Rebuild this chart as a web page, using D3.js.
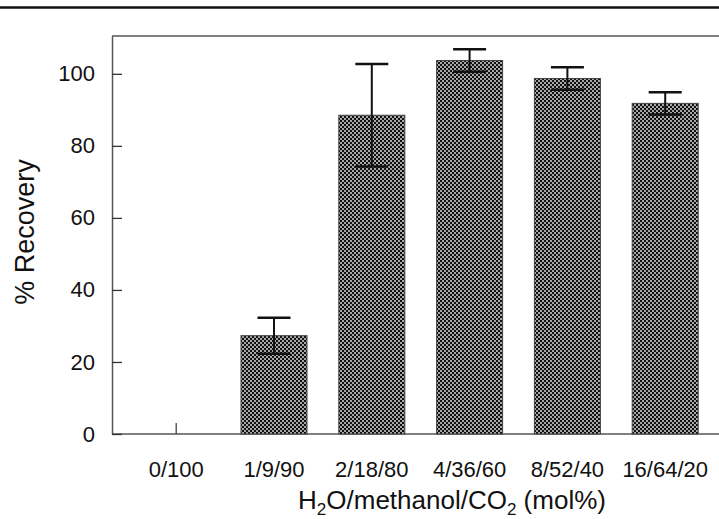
<!DOCTYPE html>
<html>
<head>
<meta charset="utf-8">
<script src="https://cdnjs.cloudflare.com/ajax/libs/d3/7.8.5/d3.min.js"></script>
<style>
	body { margin: 0; background: #fff; }
	#chart text { font-family: "Liberation Sans", Arial, sans-serif; fill: #111; }
</style>
</head>
<body>
<div id="chart"></div>
<script>
const categories = ["0/100", "1/9/90", "2/18/80", "4/36/60", "8/52/40", "16/64/20"];
const recovery = [0, 27.3, 88.5, 103.7, 98.7, 91.8];
const errors = [null, 5.0, 14.2, 3.1, 3.1, 3.1];
const yTicks = [0, 20, 40, 60, 80, 100];

const w = 719;
const h = 519;
const left = 112;
const bottom = 434;

const data = categories.map((c, i) => ({ cat: c, val: recovery[i], err: errors[i] }));

// Scales
const xScale = d3.scaleBand()
	.domain(categories)
	.range([127.3, 714.1])
	.paddingInner(0.325)
	.paddingOuter(0.1625);

const yScale = d3.scaleLinear()
	.domain([0, 110.5])
	.range([bottom, 36]);

const svg = d3.select("#chart")
	.append("svg")
	.attr("width", w)
	.attr("height", h);

// halftone fill like the scanned bars
const pat = svg.append("defs").append("pattern")
	.attr("id", "dots")
	.attr("patternUnits", "userSpaceOnUse")
	.attr("width", 4)
	.attr("height", 4);
pat.append("rect").attr("width", 4).attr("height", 4).attr("fill", "#a8a8a8");
pat.append("rect").attr("width", 2).attr("height", 2).attr("fill", "#111");
pat.append("rect").attr("x", 2).attr("y", 2).attr("width", 2).attr("height", 2).attr("fill", "#111");

// rule at the top of the page
svg.append("line")
	.attr("x1", 0).attr("x2", w)
	.attr("y1", 7.5).attr("y2", 7.5)
	.attr("stroke", "#111")
	.attr("stroke-width", 2.5);

// frame
svg.append("line")
	.attr("x1", left).attr("x2", w)
	.attr("y1", yScale(110.5)).attr("y2", yScale(110.5))
	.attr("stroke", "#555")
	.attr("stroke-width", 1.5);

svg.append("line")
	.attr("x1", left).attr("x2", w)
	.attr("y1", yScale(0)).attr("y2", yScale(0))
	.attr("stroke", "#555")
	.attr("stroke-width", 1.5);

// Axes
const yAxis = d3.axisLeft(yScale)
	.tickValues(yTicks)
	.tickSize(-10)
	.tickSizeOuter(0)
	.tickPadding(17);

const gy = svg.append("g")
	.attr("transform", `translate(${left}, 0)`)
	.call(yAxis);
gy.select(".domain").attr("stroke", "#555").attr("stroke-width", 1.5);
gy.selectAll(".tick line").attr("stroke", "#333").attr("stroke-width", 1.3);
gy.selectAll(".tick text").style("font-size", "22px");

const xAxis = d3.axisBottom(xScale)
	.tickSize(-11)
	.tickSizeOuter(0)
	.tickPadding(27);

const gx = svg.append("g")
	.attr("transform", `translate(0, ${bottom})`)
	.call(xAxis);
gx.select(".domain").remove();
gx.selectAll(".tick line").attr("stroke", "#444").attr("stroke-width", 1.3);
gx.selectAll(".tick text").style("font-size", "22px");

// Bars
svg.selectAll(".bar")
	.data(data.filter(d => d.val > 0))
	.enter()
	.append("rect")
	.attr("class", "bar")
	.attr("x", d => xScale(d.cat))
	.attr("y", d => yScale(d.val))
	.attr("width", xScale.bandwidth())
	.attr("height", d => yScale(0) - yScale(d.val))
	.attr("fill", "url(#dots)")
	.attr("stroke", "#444")
	.attr("stroke-width", 1);

// Error bars
const errData = data.filter(d => d.err != null);
const capW = xScale.bandwidth() * 0.25;

const eb = svg.selectAll(".err")
	.data(errData)
	.enter()
	.append("g")
	.attr("class", "err")
	.attr("stroke", "#111");

eb.append("line")
	.attr("x1", d => xScale(d.cat) + xScale.bandwidth() / 2)
	.attr("x2", d => xScale(d.cat) + xScale.bandwidth() / 2)
	.attr("y1", d => yScale(d.val - d.err))
	.attr("y2", d => yScale(d.val + d.err))
	.attr("stroke-width", 2);

eb.append("line")
	.attr("x1", d => xScale(d.cat) + xScale.bandwidth() / 2 - capW)
	.attr("x2", d => xScale(d.cat) + xScale.bandwidth() / 2 + capW)
	.attr("y1", d => yScale(d.val + d.err))
	.attr("y2", d => yScale(d.val + d.err))
	.attr("stroke-width", 2.5);

eb.append("line")
	.attr("x1", d => xScale(d.cat) + xScale.bandwidth() / 2 - capW)
	.attr("x2", d => xScale(d.cat) + xScale.bandwidth() / 2 + capW)
	.attr("y1", d => yScale(d.val - d.err))
	.attr("y2", d => yScale(d.val - d.err))
	.attr("stroke-width", 2.5);

// Titles
svg.append("text")
	.attr("transform", "translate(34, 232) rotate(-90)")
	.style("text-anchor", "middle")
	.style("font-size", "27px")
	.text("% Recovery");

const xt = svg.append("text")
	.attr("x", 452)
	.attr("y", 509)
	.style("text-anchor", "middle")
	.style("font-size", "26px");
xt.append("tspan").text("H");
xt.append("tspan").attr("dy", 6).style("font-size", "17px").text("2");
xt.append("tspan").attr("dy", -6).text("O/methanol/CO");
xt.append("tspan").attr("dy", 6).style("font-size", "17px").text("2");
xt.append("tspan").attr("dy", -6).text(" (mol%)");
</script>
</body>
</html>
